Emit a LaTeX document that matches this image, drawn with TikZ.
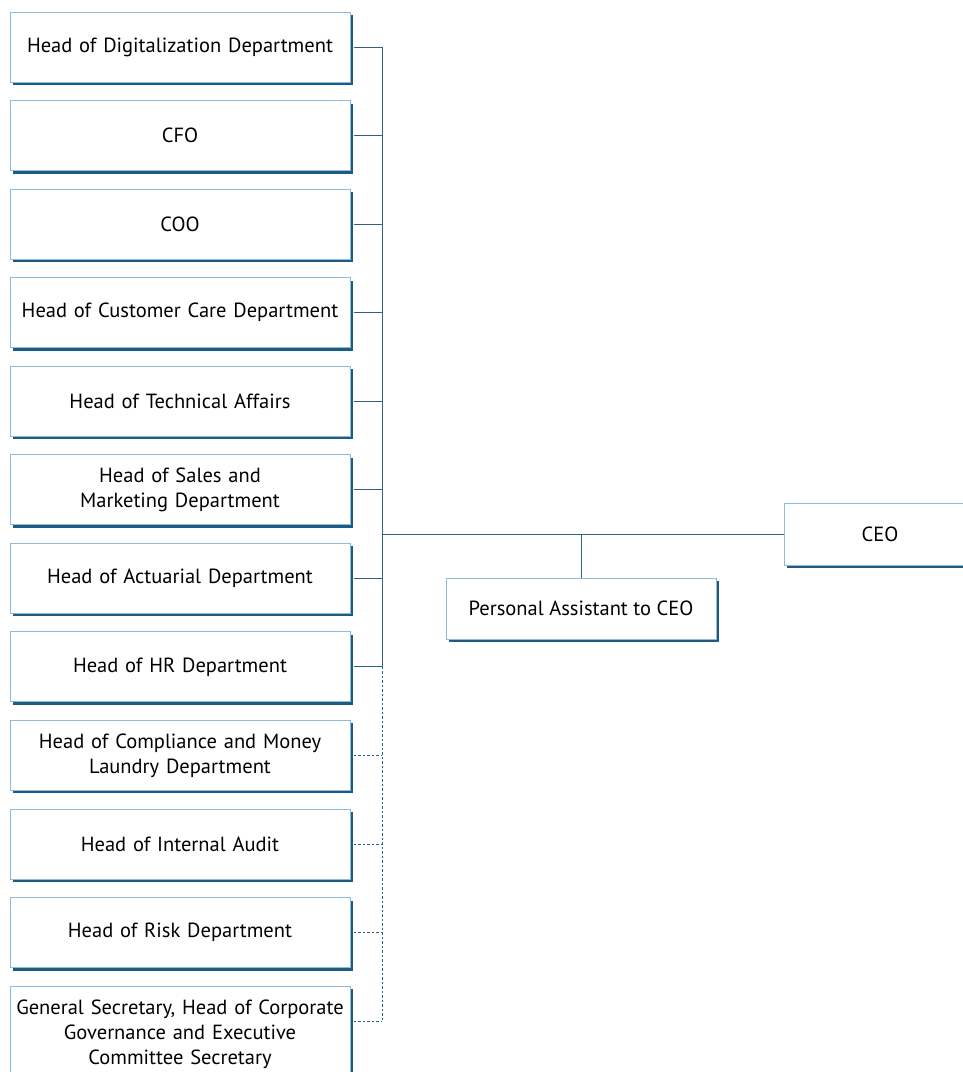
\documentclass[tikz,border=0pt]{standalone}
\usepackage{fontspec}
\setmainfont{PT Sans}
\usetikzlibrary{shadows,calc}
\definecolor{bordblue}{HTML}{8DBCE0}
\definecolor{shadblue}{HTML}{1D5B80}
\definecolor{linblue}{HTML}{2E6383}
\tikzset{
  box/.style={draw=bordblue, line width=1pt, fill=white, align=center, inner sep=0pt,
    font=\fontsize{20.5}{25}\selectfont,
    drop shadow={shadow xshift=3pt, shadow yshift=-3pt, fill=shadblue, opacity=1}},
  lbox/.style={box, minimum width=340pt, minimum height=70pt, text width=338pt},
  conn/.style={draw=linblue, line width=1pt},
  dconn/.style={conn, dash pattern=on 2.5pt off 2pt},
}
\begin{document}
\begin{tikzpicture}[x=1pt,y=-1pt]
\useasboundingbox (0,0) rectangle (963,1072);
\node[lbox] (b1) at (180,47.0) {Head of Digitalization Department};
\node[lbox] (b2) at (180,135.6) {CFO};
\node[lbox] (b3) at (180,224.1) {COO};
\node[lbox] (b4) at (180,312.7) {Head of Customer Care Department};
\node[lbox] (b5) at (180,401.2) {Head of Technical Affairs};
\node[lbox] (b6) at (180,489.8) {Head of Sales and\\Marketing Department};
\node[lbox] (b7) at (180,578.3) {Head of Actuarial Department};
\node[lbox] (b8) at (180,666.9) {Head of HR Department};
\node[lbox] (b9) at (180,755.4) {Head of Compliance and Money\\Laundry Department};
\node[lbox] (b10) at (180,844.0) {Head of Internal Audit};
\node[lbox] (b11) at (180,932.5) {Head of Risk Department};
\node[lbox, minimum height=96pt] (b12) at (180,1034) {General Secretary, Head of Corporate\\Governance and Executive\\Committee Secretary};
\node[box, minimum width=192pt, minimum height=62pt] (ceo) at (880,534) {CEO};
\node[box, minimum width=270pt, minimum height=61pt] (pa) at (581,608.5) {Personal Assistant to CEO};
\coordinate (T) at (382,0);
\foreach \i in {1,...,8}{
  \draw[conn] ([xshift=3pt]b\i.east) -- (b\i.east -| T);
}
\foreach \i in {9,...,11}{
  \draw[dconn] ([xshift=3pt]b\i.east) -- (b\i.east -| T);
}
\draw[dconn] ([xshift=3pt,yshift=13pt]b12.east) -- ([yshift=13pt]b12.east -| T);
\draw[conn] (b1.east -| T) -- (b8.east -| T);
\draw[dconn] (b8.east -| T) -- ([yshift=13pt]b12.east -| T);
\draw[conn] (T |- ceo.west) -- (ceo.west);
\draw[conn] (pa.north |- ceo.west) -- (pa.north);
\end{tikzpicture}
\end{document}
